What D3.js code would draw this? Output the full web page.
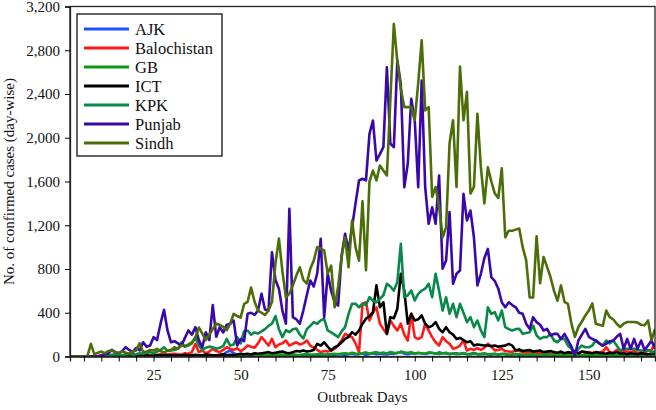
<!DOCTYPE html>
<html><head><meta charset="utf-8">
<script src="https://cdn.jsdelivr.net/npm/d3@7/dist/d3.min.js"></script>
<style>body{margin:0;background:#fff}svg{display:block}svg text{font-family:"Liberation Serif",serif !important}</style>
</head><body><svg id="c" width="656" height="410"></svg>
<script>
const seriesNames = ["AJK","Balochistan","GB","ICT","KPK","Punjab","Sindh"];
const seriesColors = ["#1f4fff","#ff1a1a","#119a1a","#000000","#08894a","#3a08aa","#4b6e08"];
const yTicks = [0,400,800,1200,1600,2000,2400,2800,3200];
const xMinorTicks = [5,10,15,20,25,30,35,40,45,50,55,60,65,70,75,80,85,90,95,100,105,110,115,120,125,130,135,140,145,150,155,160,165];
const xTickLabels = [25,50,75,100,125,150];

const ajk = [0,0,0,0,0,0,0,0,0,0, 0,0,0,1,0,0,2,0,1,0, 2,0,1,3,0,2,1,0,3,2, 1,3,2,0,4,2,3,5,2,4,
 6,3,8,5,20,40,55,30,15,8, 10,6,12,8,5,10,7,12,9,6, 8,12,10,6,14,9,12,15,10,13, 15,11,18,14,20,16,12,22,18,15,
 20,25,18,22,28,15,24,30,20,26, 22,18,28,24,35,40,26,20,30,25, 32,28,22,30,35,25,38,30,28,24, 26,30,22,28,20,25,32,22,18,24,
 20,16,22,18,25,20,15,18,22,16, 14,18,12,16,20,15,12,14,18,10, 12,15,10,13,16,11,14,9,12,15, 10,13,8,12,15,10,9,12,14,10,
 8,11,9,12,10,8,11,9,10];
const balochistan = [0,0,0,0,0,0,0,0,5,10, 20,10,5,15,10,8,12,20,25,15, 10,15,20,12,10,15,20,25,18,22, 25,20,15,30,25,40,116,40,55,30,
 45,70,50,40,60,85,70,60,75,50, 70,100,90,80,120,177,140,100,161,85, 110,120,146,100,116,130,110,120,146,100, 80,60,40,50,45,55,70,100,150,207,
 190,177,120,40,482,496,329,400,450,300, 250,207,329,280,238,300,200,146,390,177, 160,177,300,238,177,130,100,177,140,116, 70,80,100,146,55,70,60,75,60,80,
 116,90,55,60,70,50,45,40,60,50, 40,35,45,30,40,35,30,40,25,30, 30,35,25,20,25,30,20,45,35,40, 30,40,35,45,85,40,35,60,40,50,
 45,40,50,30,40,35,55,60,120];
const gb = [0,0,0,0,0,0,0,0,0,0, 0,0,1,0,2,0,1,3,0,2, 3,1,2,4,2,1,3,5,2,3, 4,2,5,3,6,4,3,5,7,4,
 6,8,5,10,7,12,9,6,11,8, 10,14,9,12,15,11,13,16,12,10, 15,18,12,14,20,16,13,18,22,15, 17,20,24,18,15,22,25,19,28,30,
 24,35,28,22,30,38,26,33,40,30, 36,28,42,35,30,45,38,32,40,28, 35,30,26,38,32,28,24,30,35,22, 28,20,25,32,22,18,26,20,24,30,
 18,22,25,16,20,24,15,18,22,20, 16,14,20,18,15,12,17,20,14,16, 12,15,18,10,14,16,12,9,15,13, 10,14,12,9,16,11,13,10,12,15,
 9,12,10,14,8,11,10,12,9];
const ict = [0,0,0,0,0,0,0,0,0,0, 2,3,5,2,4,5,3,6,8,5, 6,8,10,5,8,10,12,8,10,12, 10,8,12,15,10,12,15,10,12,18,
 15,12,10,15,20,12,15,10,18,25, 20,25,18,30,25,30,35,40,30,35, 40,45,35,30,40,50,45,55,45,50, 60,116,100,130,90,55,85,100,130,161,
 180,222,200,238,300,345,370,405,650,450, 496,207,360,350,436,756,603,300,390,329, 340,375,300,268,280,314,253,222,268,222, 200,161,170,150,130,140,100,110,105,100,
 100,95,100,90,95,100,116,100,55,65, 50,55,60,45,50,55,40,45,50,40, 35,45,30,40,35,50,30,45,40,35, 30,40,35,30,25,35,30,40,25,30,
 20,30,25,20,30,25,20,25,30];
const kpk = [0,0,0,0,0,0,0,0,2,5, 10,8,15,20,15,10,20,25,15,20, 30,25,35,40,30,45,60,85,50,55, 60,70,130,90,100,120,177,100,60,80,
 90,85,70,80,95,161,100,110,177,120, 230,238,200,220,210,230,250,280,300,370, 250,177,240,222,250,256,200,165,250,280, 314,300,330,345,238,220,200,177,230,268,
 390,482,482,450,482,470,542,510,496,527, 560,665,640,603,680,1030,542,560,603,512, 573,603,620,665,542,756,600,420,542,390, 482,360,482,400,314,360,268,329,238,177,
 450,390,405,330,420,268,250,238,250,253, 207,215,222,283,192,161,177,177,207,146, 130,161,161,100,70,27,70,100,85,85, 100,146,120,100,146,120,146,100,55,70,
 70,70,70,60,55,55,60,40,45];
const punjab = [0,0,0,0,0,0,0,5,0,10, 20,30,60,40,30,50,85,60,40,80, 55,130,90,100,177,150,300,427,238,130, 140,120,100,170,238,200,268,150,85,222,
 150,470,180,268,220,290,300,329,100,160, 140,390,400,380,420,573,430,420,953,700, 619,420,300,1350,360,340,300,420,560,695, 640,760,1076,360,756,600,500,466,923,1122,
 969,1182,1400,1609,1625,1610,2036,2158,1792,1850, 1914,2645,1945,1914,2706,2493,1548,1762,2356,2160, 1548,2523,1548,1213,1365,1213,1655,802,877,1320, 665,756,786,1487,1243,1335,1090,650,756,900,
 984,725,690,620,496,450,496,470,450,400, 390,300,253,360,314,290,238,253,192,207, 207,160,207,150,90,9,146,200,253,180, 160,146,120,100,116,140,146,180,207,70,
 161,70,161,70,146,60,100,146,70];
const sindh = [0,1,0,2,0,3,115,20,35,45, 30,50,55,40,30,45,35,25,45,55, 120,40,45,60,55,70,50,35,55,60, 85,70,100,95,110,130,170,265,210,150,
 200,250,300,290,270,240,300,390,370,355, 480,500,630,500,420,400,380,420,500,850, 1078,780,540,575,650,740,816,700,667,800, 877,1000,985,969,759,830,450,640,910,1090,
 816,1243,1000,877,1420,790,1600,1700,1610,1746, 1700,1655,2350,3040,2700,2450,2280,2280,2280,2160, 2500,2890,2250,2280,1460,1550,1370,1090,1180,1950, 2160,1550,2650,2160,2420,1490,1550,2220,1730,1400,
 1730,1600,1490,1450,1720,1090,1150,1150,1160,1170, 1000,880,540,540,1100,670,910,820,725,600, 510,650,500,480,300,180,270,320,375,420, 485,300,290,280,420,360,340,300,270,300,
 315,315,315,310,290,285,330,150,250];

const seriesValues = [ajk, balochistan, gb, ict, kpk, punjab, sindh];

const svg = d3.select("#c");
const L = 70, R = 655, T = 6.5, B = 356.5;
const font = '"Liberation Serif", serif';
const x = d3.scaleLinear().domain([1,169]).range([L,R]);
const y = d3.scaleLinear().domain([0,3200]).range([B,T]);

svg.append("defs").append("clipPath").attr("id","clip")
  .append("rect").attr("x",L).attr("y",T-2).attr("width",R-L).attr("height",B-T+2);

const line = d3.line().x((d,i)=>x(i+1)).y(d=>y(d));
const g = svg.append("g").attr("clip-path","url(#clip)");
seriesValues.forEach((vals,k)=>{
  g.append("path").datum(vals).attr("d",line)
   .attr("fill","none").attr("stroke",seriesColors[k])
   .attr("stroke-width",2.6).attr("stroke-linejoin","round");
});

// frame
svg.append("rect").attr("x",L).attr("y",T).attr("width",R-L).attr("height",B-T)
  .attr("fill","none").attr("stroke","#222").attr("stroke-width",1.3);

// y axis
const ya = svg.append("g").attr("transform",`translate(${L},0)`)
  .call(d3.axisLeft(y).tickValues(yTicks).tickSize(5).tickPadding(5).tickFormat(d3.format(",")));
ya.attr("font-family",null);
ya.select(".domain").attr("stroke","#222").attr("stroke-width",1.3);
ya.selectAll("text").style("font-family",font).style("font-size","15px").attr("fill","#111");

// x axis minor ticks + labels
const xa = svg.append("g").attr("transform",`translate(0,${B})`)
  .call(d3.axisBottom(x).tickValues(xMinorTicks).tickSize(5).tickFormat(d=>xTickLabels.includes(d)?d:""));
xa.attr("font-family",null);
xa.select(".domain").attr("stroke","#222").attr("stroke-width",1.3);
xa.selectAll("text").style("font-family",font).style("font-size","15px").attr("fill","#111").attr("y",13);

// axis titles
svg.append("text").attr("x",(L+R)/2).attr("y",402).attr("text-anchor","middle")
  .style("font-family",font).style("font-size","15px").attr("fill","#111").text("Outbreak Days");
svg.append("text").attr("transform",`translate(14,${(T+B)/2}) rotate(-90)`).attr("text-anchor","middle")
  .style("font-family",font).style("font-size","15px").attr("fill","#111").text("No. of confirmed cases (day-wise)");

// legend
const lg = svg.append("g");
lg.append("rect").attr("x",77).attr("y",14).attr("width",145).attr("height",142)
  .attr("fill","#fff").attr("stroke","#111").attr("stroke-width",1.3);
seriesNames.forEach((n,k)=>{
  const yy = 29 + k*19;
  lg.append("line").attr("x1",84).attr("x2",129).attr("y1",yy).attr("y2",yy)
    .attr("stroke",seriesColors[k]).attr("stroke-width",3);
  lg.append("text").attr("x",135).attr("y",yy+5.5).style("font-family",font).style("font-size","16.5px")
    .attr("fill","#111").text(n);
});
</script></body></html>
